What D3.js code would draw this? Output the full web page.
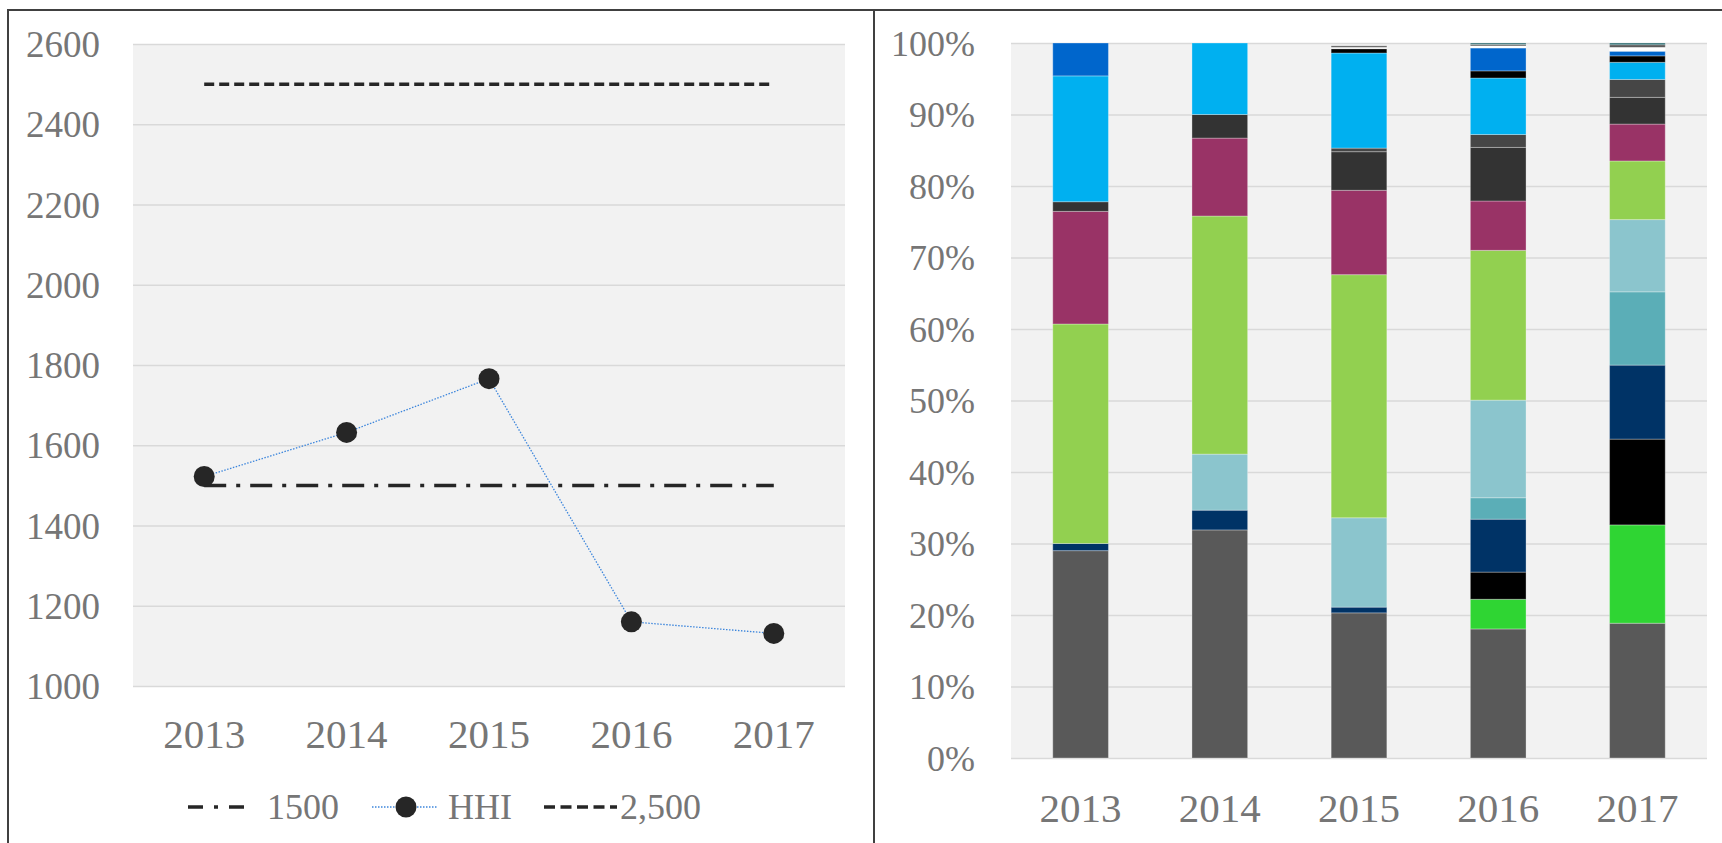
<!DOCTYPE html>
<html>
<head>
<meta charset="utf-8">
<script src="https://cdn.jsdelivr.net/npm/d3@7"></script>
<style>
  body { margin: 0; background: #fff; }
  svg { display: block; font-family: "Liberation Serif", "Times New Roman", serif; }
</style>
</head>
<body>
<svg id="chart" width="1722" height="843"></svg>
<script>
// ---- data ----
const years = ["2013", "2014", "2015", "2016", "2017"];
const hhi = [1522, 1632, 1766, 1160, 1131];
const limitLow = [1500, 1500, 1500, 1500, 1500];
const limitHigh = [2500, 2500, 2500, 2500, 2500];
const hhiTicks = [1000, 1200, 1400, 1600, 1800, 2000, 2200, 2400, 2600];
const shareTicks = [0, 10, 20, 30, 40, 50, 60, 70, 80, 90, 100];

// market shares (%), one array per firm, stacked bottom to top
const firms = ["f1", "f2", "f3", "f4", "f5", "f6", "f7", "f8",
               "f9", "f10", "f11", "f12", "f13", "f14", "f15", "f16"];
const firmColors = ["#595959", "#2fd533", "#000000", "#003366", "#5baeb7", "#8bc5cd",
                    "#92d050", "#993366", "#333333", "#464646", "#00b0f0", "#000000",
                    "#0066cc", "#ffffff", "#505050", "#2d6b70"];
const shares = [
  [29.0, 31.9, 20.3, 18.05, 18.85],
  [0, 0, 0, 4.15, 13.75],
  [0, 0, 0, 3.8, 12.0],
  [1.0, 2.76, 0.8, 7.4, 10.35],
  [0, 0, 0, 3.0, 10.25],
  [0, 7.84, 12.5, 13.65, 10.1],
  [30.7, 33.3, 34.0, 20.95, 8.2],
  [15.75, 10.9, 11.8, 6.9, 5.16],
  [1.35, 3.3, 5.4, 7.5, 3.74],
  [0, 0, 0.5, 1.8, 2.5],
  [17.6, 10.0, 13.3, 7.9, 2.4],
  [0, 0, 0.6, 1.0, 0.9],
  [4.6, 0, 0, 3.2, 0.65],
  [0, 0, 0.2, 0.3, 0.55],
  [0, 0, 0.2, 0.2, 0.35],
  [0, 0, 0, 0.2, 0.25]
];

const svg = d3.select("#chart");
const labelColor = "#767676";
const gridColor = "#d9d9d9";

// outer frame and divider
svg.append("path")
  .attr("d", "M1722,10 H8 V843 M874,10 V843")
  .attr("fill", "none")
  .attr("stroke", "#404040")
  .attr("stroke-width", 2);

// ================= left: HHI line chart =================
const L = { x0: 133, x1: 845, y0: 44, y1: 686 };
const xL = d3.scaleBand().domain(years).range([L.x0, L.x1]);
const yL = d3.scaleLinear().domain([1000, 2600]).range([L.y1, L.y0]);

svg.append("rect")
  .attr("x", L.x0).attr("y", L.y0)
  .attr("width", L.x1 - L.x0).attr("height", L.y1 - L.y0)
  .attr("fill", "#f2f2f2");

const gyL = svg.append("g")
  .attr("transform", `translate(${L.x0},0)`)
  .call(d3.axisLeft(yL).tickValues(hhiTicks).tickFormat(d3.format("d"))
    .tickSize(-(L.x1 - L.x0)).tickPadding(33));
gyL.select(".domain").remove();
gyL.selectAll("line").attr("stroke", gridColor).attr("stroke-width", 1.5);
gyL.selectAll("text").attr("fill", labelColor).attr("font-size", 37).attr("dy", "0.34em")
  .attr("font-family", "Liberation Serif");

const gxL = svg.append("g")
  .attr("transform", `translate(0,${L.y1})`)
  .call(d3.axisBottom(xL).tickSize(0).tickPadding(33));
gxL.select(".domain").remove();
gxL.selectAll("text").attr("fill", labelColor).attr("font-size", 41)
  .attr("font-family", "Liberation Serif");

const cx = (d, i) => xL(years[i]) + xL.bandwidth() / 2;
const lineOf = vals => d3.line().x((d, i) => cx(d, i)).y(d => yL(d))(vals);

svg.append("path")
  .attr("d", lineOf(limitHigh))
  .attr("fill", "none").attr("stroke", "#262626")
  .attr("stroke-width", 3.5).attr("stroke-dasharray", "10 5");

svg.append("path")
  .attr("d", lineOf(limitLow))
  .attr("fill", "none").attr("stroke", "#262626")
  .attr("stroke-width", 3.5).attr("stroke-dasharray", "22 10 4 10");

svg.append("path")
  .attr("d", lineOf(hhi))
  .attr("fill", "none").attr("stroke", "#3d86dc")
  .attr("stroke-width", 1.3).attr("stroke-dasharray", "1.5 1.5");

svg.selectAll("circle.hhi")
  .data(hhi)
  .join("circle")
  .attr("class", "hhi")
  .attr("cx", cx)
  .attr("cy", d => yL(d))
  .attr("r", 10.5)
  .attr("fill", "#262626");

// legend
const legY = 807;
const leg = svg.append("g").attr("font-size", 36).attr("fill", labelColor);

leg.append("line").attr("x1", 188).attr("x2", 250).attr("y1", legY).attr("y2", legY)
  .attr("stroke", "#262626").attr("stroke-width", 3.5).attr("stroke-dasharray", "15 11 4 11");
leg.append("text").attr("x", 267).attr("y", legY).attr("dy", "0.34em").text("1500");

leg.append("line").attr("x1", 372).attr("x2", 438).attr("y1", legY).attr("y2", legY)
  .attr("stroke", "#3d86dc").attr("stroke-width", 1.3).attr("stroke-dasharray", "1.5 1.5");
leg.append("circle").attr("cx", 406).attr("cy", legY).attr("r", 10.5).attr("fill", "#262626");
leg.append("text").attr("x", 448).attr("y", legY).attr("dy", "0.34em").text("HHI");

leg.append("line").attr("x1", 544).attr("x2", 617).attr("y1", legY).attr("y2", legY)
  .attr("stroke", "#262626").attr("stroke-width", 3.5).attr("stroke-dasharray", "11 5.5");
leg.append("text").attr("x", 620).attr("y", legY).attr("dy", "0.34em").text("2,500");

// ================= right: stacked shares =================
const R = { x0: 1011, x1: 1707, y0: 43, y1: 758 };
const xR = d3.scaleBand().domain(years).range([R.x0, R.x1]).paddingInner(0.6).paddingOuter(0.3);
const yR = d3.scaleLinear().domain([0, 100]).range([R.y1, R.y0]);

svg.append("rect")
  .attr("x", R.x0).attr("y", R.y0)
  .attr("width", R.x1 - R.x0).attr("height", R.y1 - R.y0)
  .attr("fill", "#f2f2f2");

const gyR = svg.append("g")
  .attr("transform", `translate(${R.x0},0)`)
  .call(d3.axisLeft(yR).tickValues(shareTicks).tickSize(-(R.x1 - R.x0)).tickPadding(36)
    .tickFormat(d => d + "%"));
gyR.select(".domain").remove();
gyR.selectAll("line").attr("stroke", gridColor).attr("stroke-width", 1.5);
gyR.selectAll("text").attr("fill", labelColor).attr("font-size", 36).attr("dy", "0.34em")
  .attr("font-family", "Liberation Serif");

const rows = years.map((y, j) => {
  const r = { year: y };
  firms.forEach((f, i) => { r[f] = shares[i][j]; });
  return r;
});
const stacked = d3.stack().keys(firms)(rows);

svg.append("g")
  .selectAll("g")
  .data(stacked)
  .join("g")
  .attr("fill", (d, i) => firmColors[i])
  .selectAll("rect")
  .data(d => d.filter(s => s[1] - s[0] > 0))
  .join("rect")
  .attr("x", d => xR(d.data.year))
  .attr("width", xR.bandwidth())
  .attr("y", d => yR(d[1]))
  .attr("height", d => yR(d[0]) - yR(d[1]))
  .attr("stroke", "rgba(255,255,255,0.3)")
  .attr("stroke-width", 1);

const gxR = svg.append("g")
  .attr("transform", `translate(0,${R.y1})`)
  .call(d3.axisBottom(xR).tickSize(0).tickPadding(35));
gxR.select(".domain").remove();
gxR.selectAll("text").attr("fill", labelColor).attr("font-size", 41)
  .attr("font-family", "Liberation Serif");
</script>
</body>
</html>
